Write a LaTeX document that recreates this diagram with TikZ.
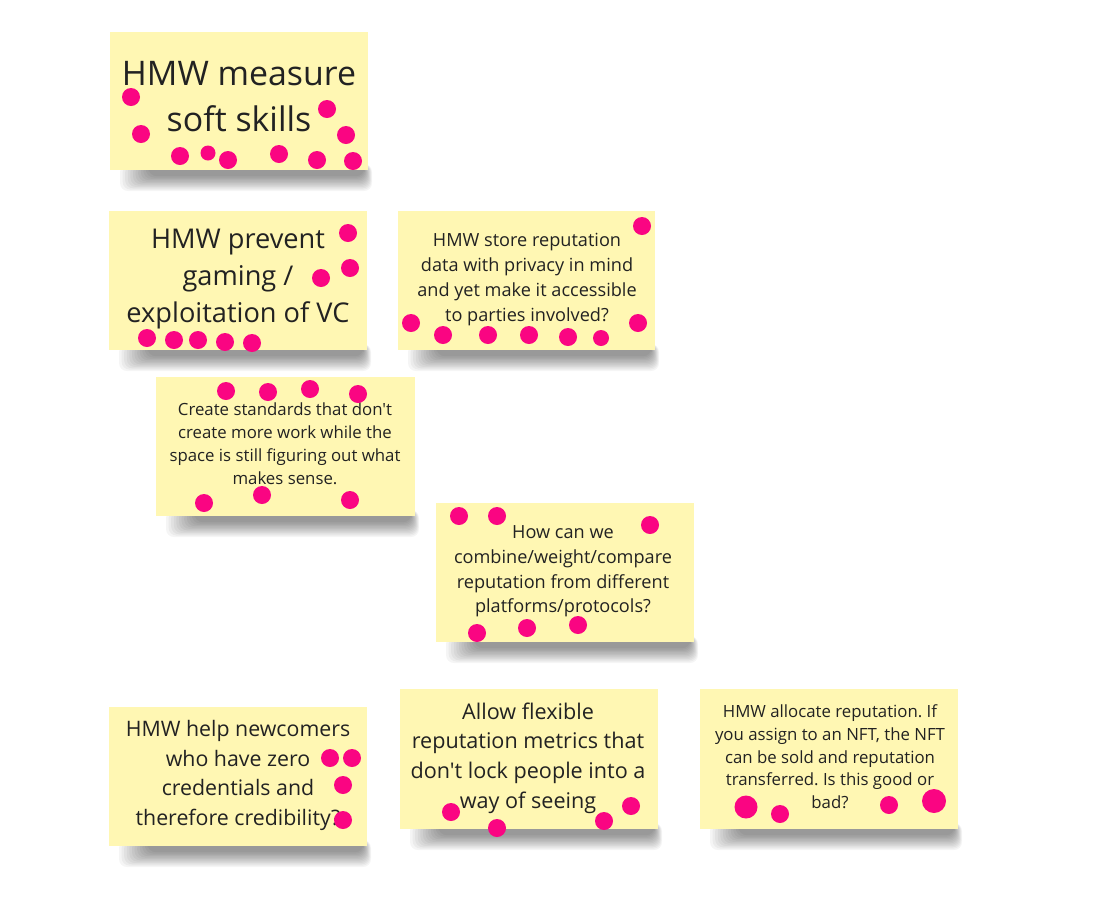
\documentclass[tikz,border=0pt]{standalone}
\usepackage{fontspec}
\setmainfont{Open Sans}[Ligatures=TeXOff]
\definecolor{notefill}{HTML}{FFF7B3}
\definecolor{dotpink}{HTML}{FA0582}
\definecolor{ink}{HTML}{222222}
\tikzset{
  px/.style={x=0.75pt,y=-0.75pt},
  sticky/.style={fill=notefill,draw=none,inner sep=0pt},
  label/.style={text=ink,align=center,inner sep=0pt},
  dot/.style={fill=dotpink}
}
\newcommand\stickyshadow[4]{%
  \foreach \i in {0,...,11}{%
    \fill[black,opacity=0.04,rounded corners=6] (#1+10+\i*2.6,#4-6) rectangle (#3+4-\i*0.7,#4+21-\i*1.35);
  }%
}
\newcommand\stickynote[5]{%
  \stickyshadow{#2}{#3}{#4}{#5}%
  \node[sticky,minimum width={(#4-#2)*0.75pt},minimum height={(#5-#3)*0.75pt},anchor=north west] (#1) at (#2,#3) {};
}
\begin{document}
\frenchspacing
\begin{tikzpicture}[px]
\useasboundingbox[fill=white] (0,0) rectangle (1120,904);
% notes
\stickynote{nA}{110}{32}{368}{170}
\stickynote{nB}{109}{211}{367}{350}
\stickynote{nC}{398}{211}{655}{350}
\stickynote{nD}{156}{377}{415}{516}
\stickynote{nE}{436}{503}{694}{642}
\stickynote{nF}{109}{707}{367}{846}
\stickynote{nG}{400}{689}{658}{829}
\stickynote{nH}{700}{689}{958}{829}
% texts
\node[label,font=\fontsize{25.4pt}{34.5pt}\selectfont] (tA) at (239,97) {HMW measure\\soft skills};
\node[label,font=\fontsize{20.4pt}{27.8pt}\selectfont] (tB) at (238,279) {HMW prevent\\gaming /\\exploitation of VC};
\node[label,font=\fontsize{13.6pt}{18.75pt}\selectfont] (tC) at (527,279.5) {HMW store reputation\\data with privacy in mind\\and yet make it accessible\\to parties involved?};
\node[label,font=\fontsize{12.6pt}{17.25pt}\selectfont] (tD) at (285,443.5) {Create standards that don't\\create more work while the\\space is still figuring out what\\makes sense.};
\node[label,font=\fontsize{13.6pt}{18.5pt}\selectfont] (tE) at (563,571.5) {How can we\\combine/weight/compare\\reputation from different\\platforms/protocols?};
\node[label,font=\fontsize{16pt}{22.3pt}\selectfont] (tF) at (238,775.5) {HMW help newcomers\\who have zero\\credentials and\\therefore credibility?};
\node[label,font=\fontsize{16.2pt}{22.3pt}\selectfont] (tG) at (528,758) {Allow flexible\\reputation metrics that\\don't lock people into a\\way of seeing};
\node[label,font=\fontsize{12.6pt}{17pt}\selectfont] (tH) at (830,757) {HMW allocate reputation. If\\you assign to an NFT, the NFT\\can be sold and reputation\\transferred. Is this good or\\bad?};
% dots A
\foreach \p/\r in {{131,97}/9,{141,134}/9,{180,156}/9,{208,153}/7.5,{228,160}/9,{279,154}/9,{317,160}/9,{353,161}/9,{327,109}/9,{346,135}/9}
  \fill[dot] (\p) circle[radius=\r];
% dots B
\foreach \p in {{348,233},{350,268},{321,278},{147,338},{174,340},{198,340},{225,342},{252,343}}
  \fill[dot] (\p) circle[radius=9];
% dots C
\foreach \p in {{642,226},{411,323},{443,335},{488,335},{529,335},{568,337},{638,323}}
  \fill[dot] (\p) circle[radius=9];
\fill[dot] (601,338) circle[radius=8];
% dots D
\foreach \p in {{226,391},{268,392},{310,389},{358,394},{204,503},{262,495},{350,500}}
  \fill[dot] (\p) circle[radius=9];
% dots E
\foreach \p in {{459,516},{497,516},{650,525},{477,633},{527,628},{578,625}}
  \fill[dot] (\p) circle[radius=9];
% dots F
\foreach \p in {{330,758},{352,758},{343,785},{343,820}}
  \fill[dot] (\p) circle[radius=9];
% dots G
\foreach \p in {{451,812},{497,828},{604,821},{631,806}}
  \fill[dot] (\p) circle[radius=9];
% dots H
\fill[dot] (746,807) circle[radius=11.5];
\fill[dot] (780,814) circle[radius=9];
\fill[dot] (889,805) circle[radius=9];
\fill[dot] (934,801) circle[radius=12];
\end{tikzpicture}
\end{document}
